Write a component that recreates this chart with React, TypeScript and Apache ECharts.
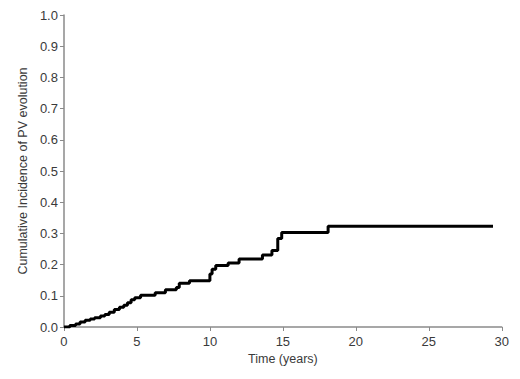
import React, { useEffect, useRef } from "react";
import * as echarts from "echarts";

const times = [0, 0.4, 0.8, 1.1, 1.45, 1.8, 2.1, 2.5, 2.8, 3.1, 3.45, 3.8, 4.1, 4.35, 4.6, 4.85, 5.25, 6.25, 6.95, 7.7, 7.9, 8.6, 10.0, 10.15, 10.4, 11.25, 12.0, 13.6, 14.25, 14.65, 14.92, 18.1, 29.4];
const incidence = [0, 0.005, 0.01, 0.016, 0.022, 0.026, 0.03, 0.035, 0.04, 0.047, 0.056, 0.063, 0.07, 0.078, 0.087, 0.094, 0.102, 0.11, 0.119, 0.127, 0.14, 0.148, 0.17, 0.185, 0.197, 0.205, 0.218, 0.231, 0.245, 0.284, 0.303, 0.323, 0.323];

const xTitle = "Time (years)";
const yTitle = "Cumulative Incidence of PV evolution";

export default function App() {
  const ref = useRef<HTMLDivElement>(null);
  useEffect(() => {
    if (!ref.current) return;
    const chart = echarts.init(ref.current, null, { renderer: "svg" });
    const axisColor = "#8a8a8a";
    const labelColor = "#3a3a3a";
    const font = "Liberation Sans, Arial, sans-serif";
    chart.setOption({
      animation: false,
      grid: { left: 54, top: 7, right: 5, bottom: 44, containLabel: false },
      xAxis: {
        type: "value",
        min: 0,
        max: 30,
        interval: 5,
        name: xTitle,
        nameLocation: "middle",
        nameGap: 24,
        nameTextStyle: { color: labelColor, fontSize: 12.5, fontFamily: font },
        axisLine: { show: true, lineStyle: { color: axisColor, width: 1.5 } },
        axisTick: { show: true, length: 4, lineStyle: { color: axisColor } },
        axisLabel: { color: labelColor, fontSize: 13, fontFamily: font, margin: 8 },
        splitLine: { show: false },
      },
      yAxis: {
        type: "value",
        min: 0,
        max: 1,
        interval: 0.1,
        name: yTitle,
        nameLocation: "middle",
        nameGap: 34,
        nameTextStyle: { color: labelColor, fontSize: 12.5, fontFamily: font },
        axisLine: { show: true, lineStyle: { color: axisColor, width: 1.5 } },
        axisTick: { show: true, length: 4, lineStyle: { color: axisColor } },
        axisLabel: {
          color: labelColor,
          fontSize: 13,
          fontFamily: font,
          margin: 6,
          formatter: (v: number) => v.toFixed(1),
        },
        splitLine: { show: false },
      },
      series: [
        {
          type: "line",
          step: "end",
          showSymbol: false,
          data: times.map((t, i) => [t, incidence[i]]),
          lineStyle: { color: "#000", width: 3 },
        },
      ],
    });
    return () => chart.dispose();
  }, []);
  return <div ref={ref} style={{ width: 504, height: 363 }} />;
}
